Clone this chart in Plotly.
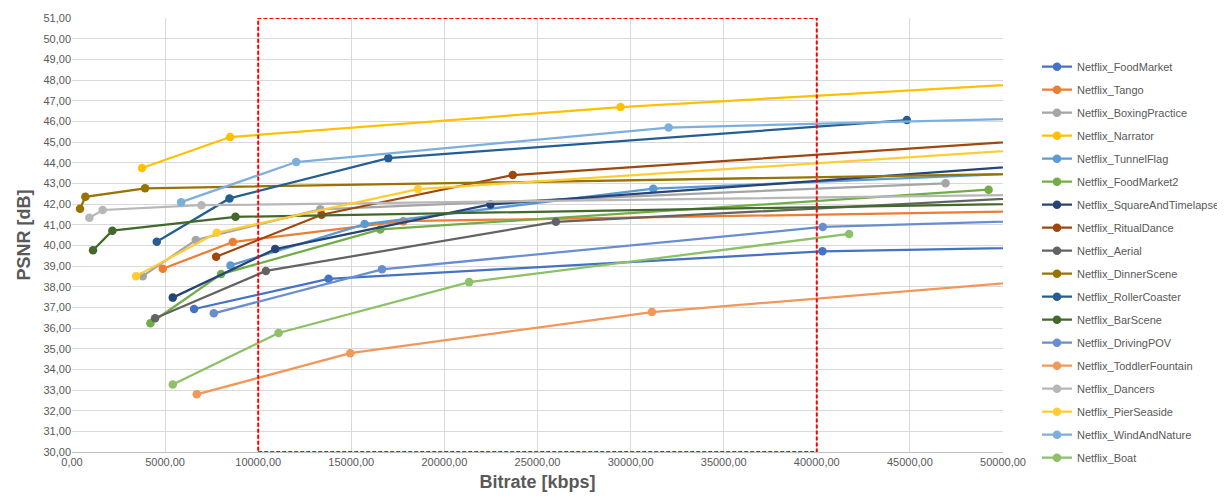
import plotly.graph_objects as go

names = ["Netflix_FoodMarket", "Netflix_Tango", "Netflix_BoxingPractice", "Netflix_Narrator",
         "Netflix_TunnelFlag", "Netflix_FoodMarket2", "Netflix_SquareAndTimelapse",
         "Netflix_RitualDance", "Netflix_Aerial", "Netflix_DinnerScene", "Netflix_RollerCoaster",
         "Netflix_BarScene", "Netflix_DrivingPOV", "Netflix_ToddlerFountain", "Netflix_Dancers",
         "Netflix_PierSeaside", "Netflix_WindAndNature", "Netflix_Boat"]

colors = ["#4472C4", "#ED7D31", "#A5A5A5", "#FFC000", "#5B9BD5", "#70AD47", "#264478",
          "#9E480E", "#636363", "#997300", "#255E91", "#43682B", "#698ED0", "#F1975A",
          "#B7B7B7", "#FFCD33", "#7CAFDD", "#8CC168"]

# bitrate [kbps] per series
bitrates = [
    [6559, 13780, 40303, 58000],          # FoodMarket
    [4875, 8637, 17795, 58000],           # Tango
    [3800, 6650, 13333, 46915],           # BoxingPractice
    [3763, 8494, 29460, 58000],           # Narrator
    [8512, 15716, 31219, 58000],          # TunnelFlag
    [4211, 8010, 16558, 49226],           # FoodMarket2
    [5412, 10913, 22472, 58000],          # SquareAndTimelapse
    [7741, 13404, 23672, 58000],          # RitualDance
    [4462, 10413, 25985, 58000],          # Aerial
    [430, 717, 3925, 58000],              # DinnerScene
    [4552, 8457, 16988, 44836],           # RollerCoaster
    [1129, 2168, 8780, 58000],            # BarScene
    [7616, 16648, 40320, 58000],          # DrivingPOV
    [6702, 14945, 31144, 58000],          # ToddlerFountain
    [931, 1649, 6952, 58000],             # Dancers
    [3441, 7778, 18584, 58000],           # PierSeaside
    [5860, 12042, 32041, 58000],          # WindAndNature
    [5412, 11093, 21325, 41736],          # Boat
]

# PSNR [dB] per series
psnr = [
    [36.92, 38.38, 39.71, 40.00],
    [38.87, 40.16, 41.17, 41.74],
    [38.51, 40.26, 41.74, 43.00],
    [43.74, 45.24, 46.69, 48.16],
    [39.03, 41.03, 42.74, 43.75],
    [36.23, 38.61, 40.77, 42.69],
    [37.47, 39.82, 41.98, 44.29],
    [39.45, 41.48, 43.40, 45.46],
    [36.47, 38.76, 41.14, 42.61],
    [41.77, 42.35, 42.76, 43.57],
    [40.17, 42.27, 44.22, 46.06],
    [39.76, 40.71, 41.38, 42.12],
    [36.71, 38.84, 40.89, 41.35],
    [32.79, 34.78, 36.77, 38.75],
    [41.33, 41.71, 41.94, 42.52],
    [38.51, 40.61, 42.72, 45.02],
    [42.09, 44.03, 45.70, 46.28],
    [33.27, 35.76, 38.22, 40.55],
]

x_ticks = list(range(0, 50001, 5000))
y_ticks = list(range(30, 52))
box_x = [10000, 40000]
box_y = [30, 51]

FONT = "Liberation Sans, Arial"
GREY = "#595959"

fig = go.Figure()
for i, n in enumerate(names):
    fig.add_trace(go.Scatter(
        x=bitrates[i], y=psnr[i], name=n, mode="lines+markers",
        line=dict(color=colors[i], width=2.25),
        marker=dict(color=colors[i], size=8.5),
        legendgroup=n, cliponaxis=True,
    ))

fig.add_shape(type="rect", xref="x", yref="y",
              x0=box_x[0], x1=box_x[1], y0=box_y[0], y1=box_y[1],
              line=dict(color="#FF0000", width=2, dash="4px,2px"),
              fillcolor="rgba(0,0,0,0)", layer="above")

fig.update_layout(
    width=1217, height=496,
    margin=dict(l=64, r=222, t=10, b=52, autoexpand=False),
    plot_bgcolor="white", paper_bgcolor="white",
    separators=",.",
    font=dict(family=FONT, color=GREY, size=11),
    showlegend=True,
    legend=dict(xref="container", yref="container", x=0.8455, y=0.911,
                xanchor="left", yanchor="top", maxheight=1,
                font=dict(size=11, color=GREY, family=FONT),
                tracegroupgap=4, itemwidth=30, bgcolor="rgba(0,0,0,0)"),
    xaxis=dict(range=[0, 50000], tickvals=x_ticks, tickformat=".2f",
               showgrid=True, gridcolor="#D9D9D9", gridwidth=1, automargin=False,
               zeroline=False, showline=True, linecolor="#BFBFBF",
               tickfont=dict(size=11, color=GREY),
               title=dict(text="<b>Bitrate [kbps]</b>", font=dict(size=18, color=GREY), standoff=8)),
    yaxis=dict(range=[30, 51], tickvals=y_ticks, tickformat=".2f",
               showgrid=True, gridcolor="#D9D9D9", gridwidth=1, automargin=False,
               zeroline=False, showline=False,
               tickfont=dict(size=11, color=GREY),
               title=dict(text="<b>PSNR [dB]</b>", font=dict(size=18, color=GREY), standoff=8)),
)

fig.write_html("out.html")
